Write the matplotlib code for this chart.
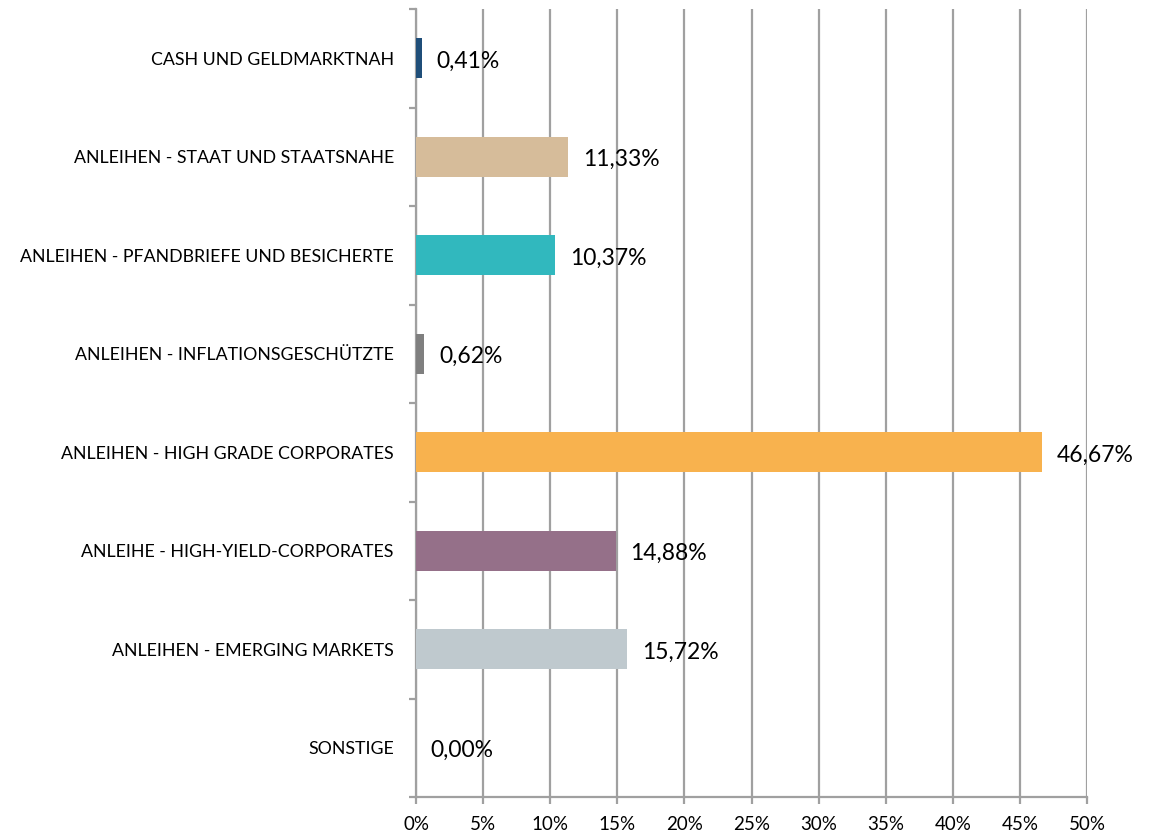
import matplotlib
matplotlib.use("Agg")
import matplotlib.pyplot as plt
from matplotlib.ticker import FixedLocator

categories = [
    "CASH UND GELDMARKTNAH",
    "ANLEIHEN - STAAT UND STAATSNAHE",
    "ANLEIHEN - PFANDBRIEFE UND BESICHERTE",
    "ANLEIHEN - INFLATIONSGESCHÜTZTE",
    "ANLEIHEN - HIGH GRADE CORPORATES",
    "ANLEIHE - HIGH-YIELD-CORPORATES",
    "ANLEIHEN - EMERGING MARKETS",
    "SONSTIGE",
]
values = [0.41, 11.33, 10.37, 0.62, 46.67, 14.88, 15.72, 0.00]
colors = ["#1F4E79", "#D6BC9A", "#31B8BE", "#7F7F7F", "#F8B24E", "#957089", "#BFC9CE", "#FFFFFF"]
xticks = [0, 5, 10, 15, 20, 25, 30, 35, 40, 45, 50]

plt.rcParams['font.family'] = ['Lato', 'DejaVu Sans']

fig = plt.figure(figsize=(11.58, 8.32), dpi=100)
ax = fig.add_axes([416/1158, 1-797/832, (1087-416)/1158, (797-9)/832])

n = len(categories)
ypos = list(range(n))
ax.barh(ypos, values, height=0.41, color=colors, zorder=3)
ax.set_ylim(n - 0.5, -0.5)
ax.set_xlim(0, 50)

gridc = "#A0A0A0"
ax.set_xticks(xticks)
ax.set_xticklabels([f"{t}%" for t in xticks], fontsize=13.5)
ax.xaxis.grid(True, color=gridc, linewidth=1.6, zorder=0)
ax.set_yticks(ypos)
ax.set_yticklabels(categories, fontsize=12.8)
ax.tick_params(axis='y', which='major', length=0, pad=16)
ax.yaxis.set_minor_locator(FixedLocator([i - 0.5 for i in range(n + 1)]))
ax.tick_params(axis='y', which='minor', length=5, width=1.6, color=gridc)
ax.tick_params(axis='x', which='major', length=5, width=1.6, color=gridc, pad=9)

for s in ['top', 'right']:
    ax.spines[s].set_visible(False)
for s in ['left', 'bottom']:
    ax.spines[s].set_color(gridc)
    ax.spines[s].set_linewidth(1.6)

for y, v in zip(ypos, values):
    ax.text(v + 1.1, y + 0.03, f"{v:.2f}%".replace(".", ","), va='center', ha='left',
            fontsize=16.5, zorder=4)

fig.savefig("out.png", dpi=100)
